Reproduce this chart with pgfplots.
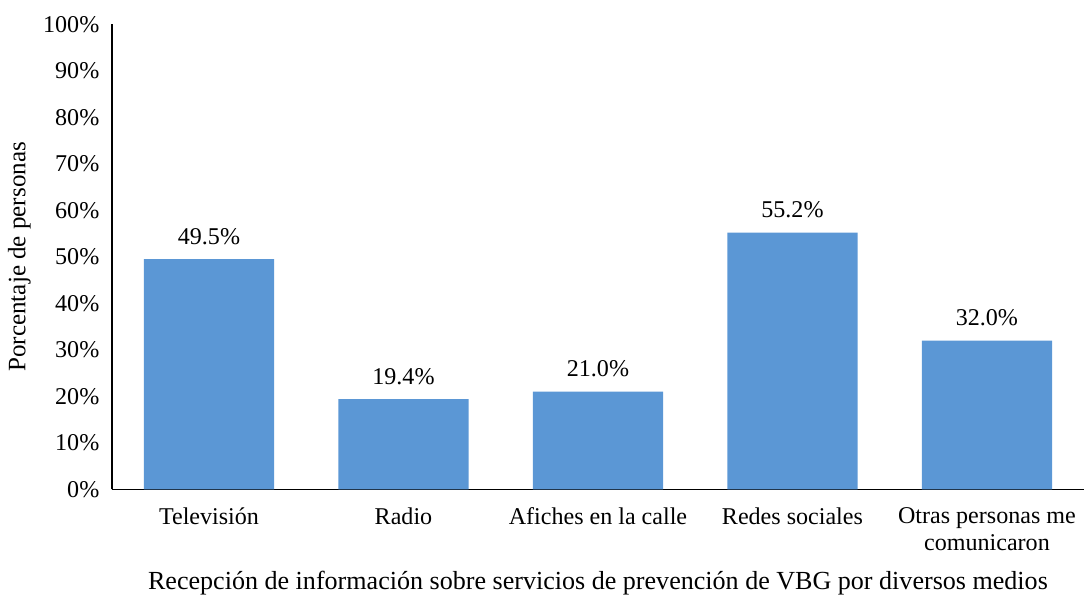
\documentclass[border=0pt]{standalone}
\usepackage{pgfplots}
\pgfplotsset{compat=1.18}
\usepackage{fontspec}
\setmainfont{Liberation Serif}
\definecolor{barblue}{HTML}{5B97D5}
\begin{document}
\fontsize{12}{13.5}\selectfont
\begin{tikzpicture}
\begin{axis}[
    scale only axis,
    width=485pt,
    height=232pt,
    ymin=0, ymax=100,
    xmin=-0.5, xmax=4.5,
    ytick={0,10,...,100},
    yticklabel={\pgfmathprintnumber{\tick}\%},
    /pgf/number format/assume math mode=true,
    yticklabel style={xshift=-2pt},
    xtick=data,
    xticklabels={Televisión, Radio, Afiches en la calle, Redes sociales, {Otras personas me\\comunicaron}},
    xticklabel style={align=center, yshift=-5pt},
    major tick length=0pt,
    axis x line=bottom,
    axis y line=left,
    axis line style={-, line width=0.8pt},
    ylabel={Porcentaje de personas},
    xlabel={Recepción de información sobre servicios de prevención de VBG por diversos medios},
    ylabel style={yshift=-2pt, font=\fontsize{12.5}{14}\selectfont},
    xlabel style={yshift=-2pt, font=\fontsize{13}{15}\selectfont},
    ybar,
    bar width=65pt,
    nodes near coords={\pgfmathprintnumber[fixed, fixed zerofill, precision=1]{\pgfplotspointmeta}\%},
    nodes near coords style={font=\fontsize{12}{13.5}\selectfont, yshift=3pt},
]
\addplot[fill=barblue, draw=none] coordinates {
    (0, 49.5)
    (1, 19.4)
    (2, 21.0)
    (3, 55.2)
    (4, 32.0)
};
\end{axis}
\path ([yshift=4pt]current bounding box.north);
\end{tikzpicture}
\end{document}
